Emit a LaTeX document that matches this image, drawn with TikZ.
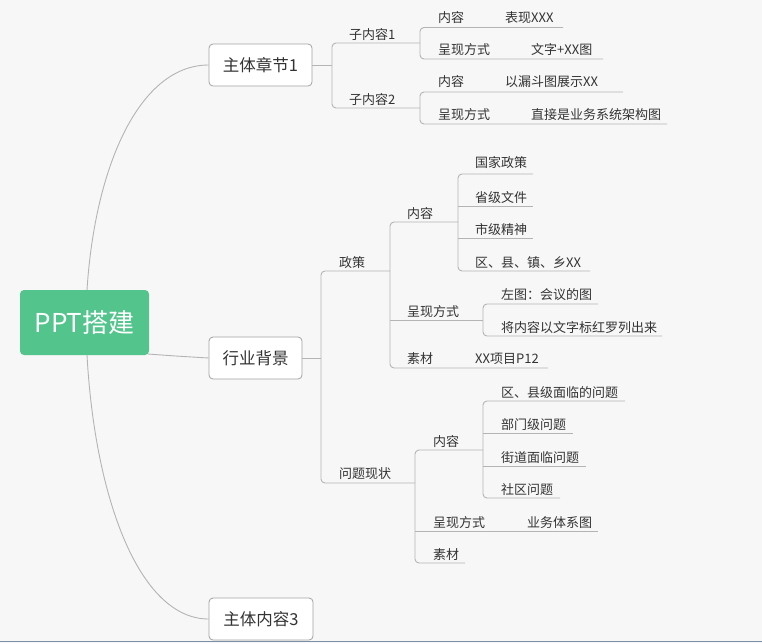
\documentclass[tikz,border=0pt]{standalone}
\usepackage{fontspec}
\setmainfont{Noto Sans CJK SC}
\definecolor{bg}{HTML}{F7F7F7}
\definecolor{ln}{HTML}{B4B4B4}
\definecolor{tx}{HTML}{333333}
\definecolor{rootc}{HTML}{52C48C}
\definecolor{bord}{HTML}{7D8FA8}
\begin{document}
\begin{tikzpicture}[x=1pt,y=-1pt,
  lbl/.style={anchor=west,inner sep=0pt,yshift=-1.5pt,text=tx,font=\fontsize{13}{13}\selectfont},
  mainbox/.style={draw=ln!90!black,fill=white,rounded corners=4pt,line width=0.8pt,text=tx,font=\fontsize{16.5}{16}\selectfont,inner sep=0pt,minimum height=42pt},
  conn/.style={draw=ln,line width=0.9pt},
  brk/.style={draw=ln,line width=0.9pt,rounded corners=4pt}]
\fill[bg] (0,0) rectangle (762,643);
\useasboundingbox (0,0) rectangle (762,643);
\draw[bord,line width=1.2pt] (0,641.5) -- (762,641.5);

% root
\node[fill=rootc,rounded corners=4pt,minimum width=129pt,minimum height=65pt,inner sep=0pt,text=white,font=\fontsize{26}{26}\selectfont] (root) at (84.5,322.5) {PPT搭建};
% main nodes
\node[mainbox,minimum width=103pt] (m1) at (260.5,65) {主体章节1};
\node[mainbox,minimum width=93pt] (m2) at (255.5,358) {行业背景};
\node[mainbox,minimum width=104pt] (m3) at (261,619) {主体内容3};

\draw[conn] (87,290) .. controls (95,165) and (140,65) .. (m1.west);
\draw[conn] (148,354) .. controls (175,356) .. (m2.west);
\draw[conn] (87,355) .. controls (95,500) and (140,619) .. (m3.west);

% ---------- subtree 1 ----------
\node[lbl] (s1) at (349,33) {子内容1};
\node[lbl] (s2) at (349,98) {子内容2};
\node[lbl] (a1) at (438,16) {内容};
\node[lbl] (a1v) at (505,16) {表现XXX};
\node[lbl] (a2) at (438,48) {呈现方式};
\node[lbl] (a2v) at (531,48) {文字+XX图};
\node[lbl] (b1) at (438,80) {内容};
\node[lbl] (b1v) at (505,80) {以漏斗图展示XX};
\node[lbl] (b2) at (438,113) {呈现方式};
\node[lbl] (b2v) at (531,113) {直接是业务系统架构图};

\draw[conn] (m1.east) -- (332,65);
\draw[brk] (420,43) -- (332,43) -- (332,108) -- (420,108);
\draw[brk] (563,27.5) -- (420,27.5) -- (420,59) -- (603,59);
\draw[brk] (623,92) -- (420,92) -- (420,124) -- (667,124);

% ---------- subtree 2 ----------
\node[lbl] (p) at (339,261) {政策};
\node[lbl] (pc) at (407,212) {内容};
\node[lbl] (pc1) at (475,161) {国家政策};
\node[lbl] (pc2) at (475,196) {省级文件};
\node[lbl] (pc3) at (475,228) {市级精神};
\node[lbl] (pc4) at (475,261) {区、县、镇、乡XX};
\node[lbl] (pp) at (407,310) {呈现方式};
\node[lbl] (pp1) at (501,293) {左图：会议的图};
\node[lbl] (pp2) at (501,326) {将内容以文字标红罗列出来};
\node[lbl] (pm) at (407,357) {素材};
\node[lbl] (pmv) at (475,357) {XX项目P12};

\node[lbl] (q) at (339,472) {问题现状};
\node[lbl] (qc) at (433,440) {内容};
\node[lbl] (qc1) at (501,391) {区、县级面临的问题};
\node[lbl] (qc2) at (501,423) {部门级问题};
\node[lbl] (qc3) at (501,456) {街道面临问题};
\node[lbl] (qc4) at (501,488) {社区问题};
\node[lbl] (qp) at (433,521) {呈现方式};
\node[lbl] (qpv) at (527,521) {业务体系图};
\node[lbl] (qm) at (433,553) {素材};

\draw[conn] (m2.east) -- (321,358);
\draw[brk] (390,271) -- (321,271) -- (321,483) -- (415,483);
% 政策
\draw[brk] (458,222) -- (390,222) -- (390,368) -- (548,368);
\draw[conn] (390,320) -- (483,320);
\draw[brk] (533,174) -- (458,174) -- (458,271) -- (590,271);
\draw[conn] (458,206) -- (533,206);
\draw[conn] (458,238) -- (533,238);
\draw[brk] (598,304) -- (483,304) -- (483,336) -- (662,336);
% 问题现状
\draw[brk] (483,450) -- (415,450) -- (415,563) -- (465,563);
\draw[conn] (415,531) -- (598,531);
\draw[brk] (625,401) -- (483,401) -- (483,498) -- (560,498);
\draw[conn] (483,433) -- (573,433);
\draw[conn] (483,466) -- (586,466);
\end{tikzpicture}
\end{document}
